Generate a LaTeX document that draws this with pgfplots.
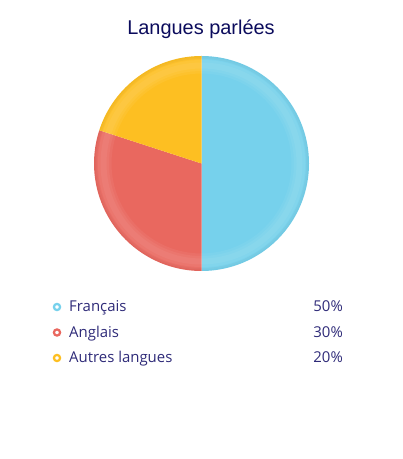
\documentclass[border=0pt]{standalone}
\usepackage{pgfplots}
\pgfplotsset{compat=1.18}
\usepackage{fontspec}
\setmainfont{Open Sans}
\newfontfamily\titlefont{Liberation Sans}

\definecolor{cfr}{HTML}{76D1EC}
\definecolor{cen}{HTML}{E9685F}
\definecolor{cau}{HTML}{FDBF22}
\definecolor{ctitle}{HTML}{0B0B5C}
\definecolor{ctext}{HTML}{2E2A78}

% shares in percent
\def\vFr{50}
\def\vEn{30}
\def\vAu{20}

\begin{document}
\begin{tikzpicture}
\begin{axis}[
    x=1bp, y=1bp,
    xmin=0, xmax=402, ymin=0, ymax=459,
    hide axis, scale only axis, clip=false,
]
\path (axis cs:0,0) rectangle (axis cs:402,459);

% title
\node[anchor=base, font=\titlefont\fontsize{20}{24}\selectfont, text=ctitle]
    at (axis cs:201,424.5) {Langues parlées};

% pie, clockwise from 12 o'clock
\pgfmathsetmacro{\aA}{90}
\pgfmathsetmacro{\aB}{\aA-3.6*\vFr}
\pgfmathsetmacro{\aC}{\aB-3.6*\vEn}
\pgfmathsetmacro{\aD}{\aC-3.6*\vAu}
\fill[cfr] (axis cs:201.5,295.5) -- ++(\aA:107.5bp) arc[start angle=\aA, end angle=\aB, radius=107.5bp] -- cycle;
\fill[cen] (axis cs:201.5,295.5) -- ++(\aB:107.5bp) arc[start angle=\aB, end angle=\aC, radius=107.5bp] -- cycle;
\fill[cau] (axis cs:201.5,295.5) -- ++(\aC:107.5bp) arc[start angle=\aC, end angle=\aD, radius=107.5bp] -- cycle;
% soft sheen
\draw[white, opacity=0.05, line width=16bp] (axis cs:201.5,295.5) circle[radius=98bp];
\draw[white, opacity=0.05, line width=11bp] (axis cs:201.5,295.5) circle[radius=98bp];
\draw[white, opacity=0.05, line width=6bp] (axis cs:201.5,295.5) circle[radius=98bp];
\draw[black, opacity=0.03, line width=3bp] (axis cs:201.5,295.5) circle[radius=106bp];

% legend markers
\addplot[only marks, mark=*, mark size=3.1bp, draw=cfr, fill=white, line width=2.2bp] coordinates {(57,152)};
\addplot[only marks, mark=*, mark size=3.1bp, draw=cen, fill=white, line width=2.2bp] coordinates {(57,126.5)};
\addplot[only marks, mark=*, mark size=3.1bp, draw=cau, fill=white, line width=2.2bp] coordinates {(57,101)};

% legend text
\tikzset{lg/.style={font=\fontsize{15}{17}\selectfont, text=ctext, inner sep=0pt}}
\node[lg, anchor=base west] at (axis cs:69,147) {Français};
\node[lg, anchor=base west] at (axis cs:69,121.5) {Anglais};
\node[lg, anchor=base west] at (axis cs:69,96) {Autres langues};
\node[lg, anchor=base east] at (axis cs:343,147) {\vFr\%};
\node[lg, anchor=base east] at (axis cs:343,121.5) {\vEn\%};
\node[lg, anchor=base east] at (axis cs:343,96) {\vAu\%};
\end{axis}
\end{tikzpicture}
\end{document}
